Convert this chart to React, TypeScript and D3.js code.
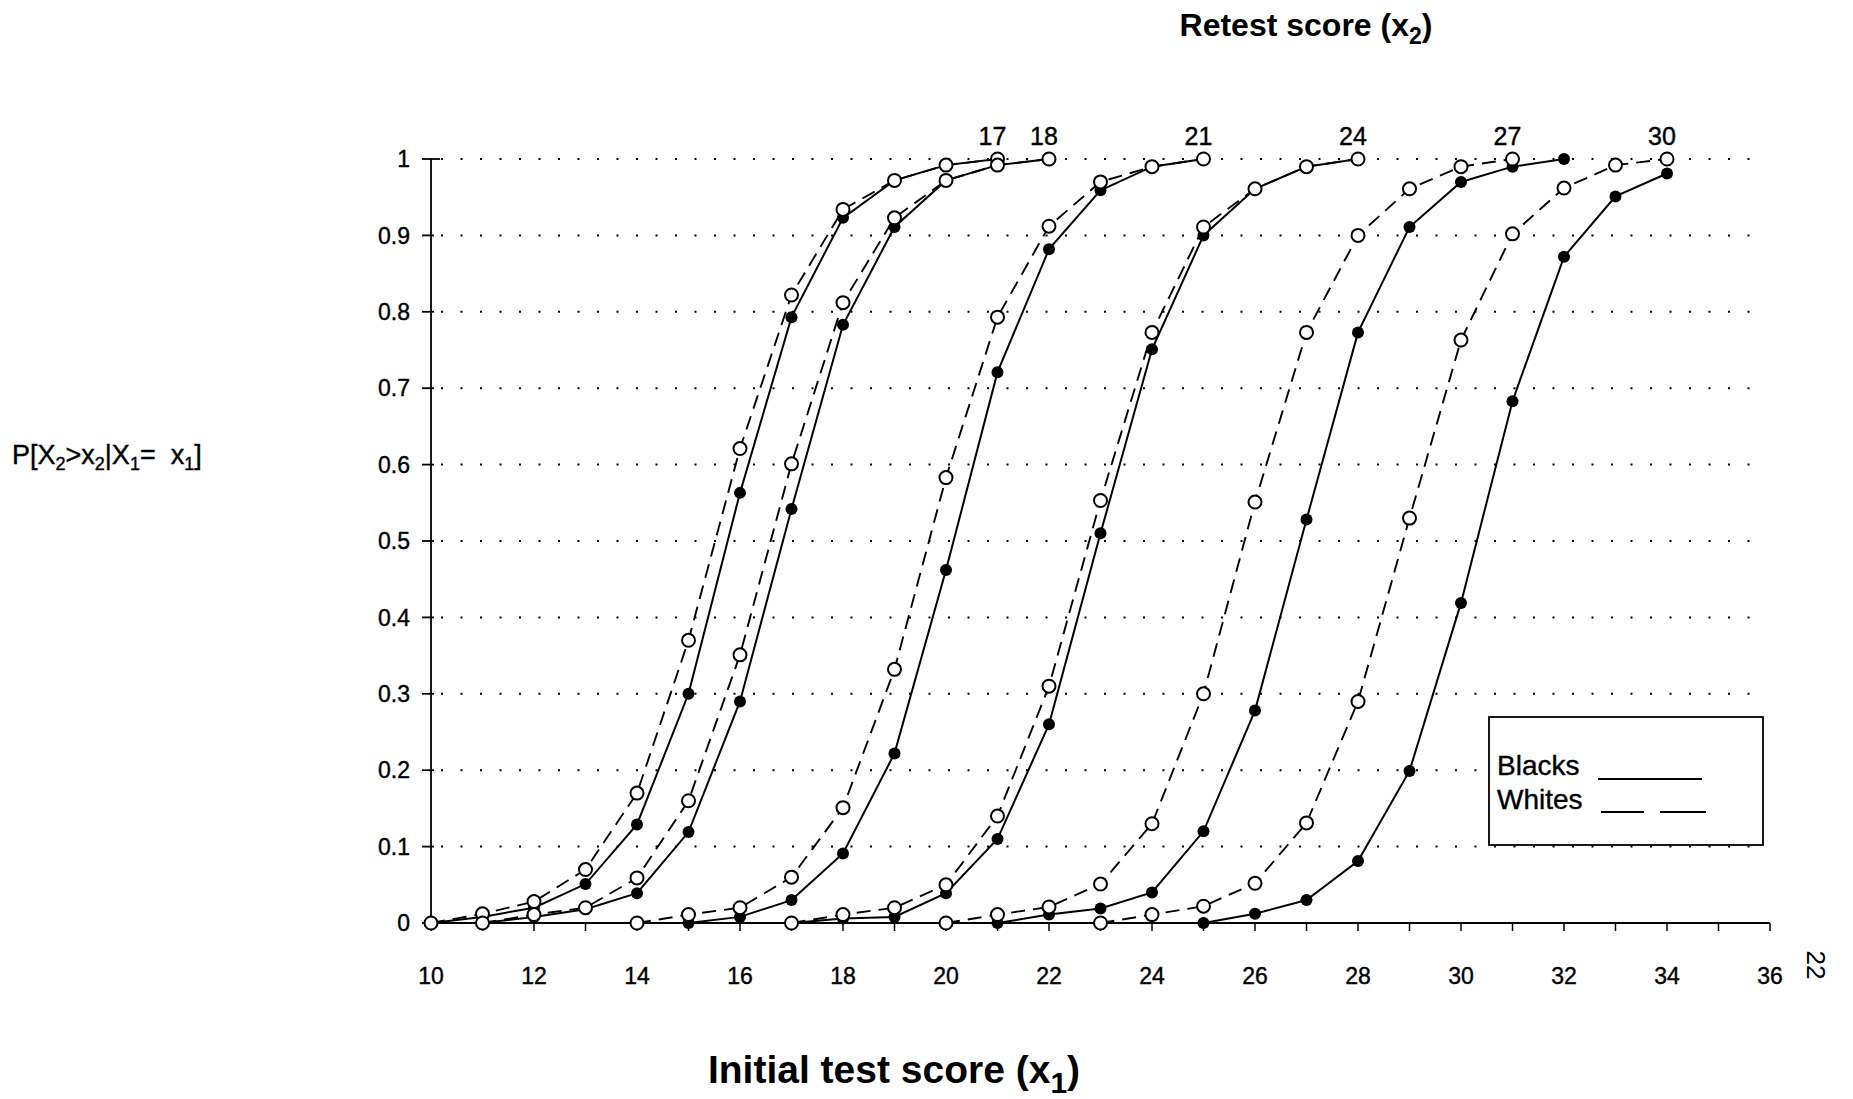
import React from "react";
import * as d3 from "d3";

// ---- data ----
const xTicks = [10, 12, 14, 16, 18, 20, 22, 24, 26, 28, 30, 32, 34, 36];
const yTicks = [0, 0.1, 0.2, 0.3, 0.4, 0.5, 0.6, 0.7, 0.8, 0.9, 1];
const yTickLabels = ["0", "0.1", "0.2", "0.3", "0.4", "0.5", "0.6", "0.7", "0.8", "0.9", "1"];
const curveLabels = ["17", "18", "21", "24", "27", "30"];
const whitesStart = [10, 11, 14, 17, 20, 23];
const blacksStart = [10, 11, 15, 17, 21, 25];

const whites17 = [0, 0.012, 0.028, 0.07, 0.17, 0.37, 0.621, 0.822, 0.934, 0.972, 0.992, 1.0];
const blacks17 = [0, 0.008, 0.02, 0.051, 0.129, 0.3, 0.563, 0.793, 0.923, 0.972, 0.992, 1.0];
const whites18 = [0, 0.011, 0.02, 0.059, 0.16, 0.351, 0.601, 0.812, 0.923, 0.972, 0.992, 1.0];
const blacks18 = [0, 0.008, 0.018, 0.039, 0.119, 0.29, 0.542, 0.783, 0.911, 0.972, 0.992, 1.0];
const whites21 = [0, 0.011, 0.02, 0.06, 0.151, 0.332, 0.583, 0.793, 0.912, 0.97, 0.99, 1.0];
const blacks21 = [0, 0.008, 0.03, 0.091, 0.222, 0.462, 0.721, 0.882, 0.959, 0.99, 1.0];
const whites24 = [0, 0.011, 0.02, 0.05, 0.14, 0.31, 0.553, 0.773, 0.911, 0.961, 0.99, 1.0];
const blacks24 = [0, 0.006, 0.008, 0.039, 0.11, 0.26, 0.51, 0.751, 0.9, 0.961, 0.99, 1.0];
const whites27 = [0, 0.011, 0.021, 0.051, 0.13, 0.3, 0.551, 0.773, 0.9, 0.961, 0.99, 1.0];
const blacks27 = [0, 0.011, 0.019, 0.04, 0.12, 0.278, 0.528, 0.773, 0.911, 0.97, 0.99, 1.0];
const whites30 = [0, 0.011, 0.022, 0.052, 0.131, 0.29, 0.53, 0.763, 0.902, 0.962, 0.992, 1.0];
const blacks30 = [0, 0.012, 0.03, 0.081, 0.199, 0.419, 0.683, 0.872, 0.951, 0.981];

const whitesValues = [whites17, whites18, whites21, whites24, whites27, whites30];
const blacksValues = [blacks17, blacks18, blacks21, blacks24, blacks27, blacks30];

type Pt = { x: number; y: number };
const toPts = (start: number, vals: number[]): Pt[] => vals.map((v, i) => ({ x: start + i, y: v }));

const FONT = "'Liberation Sans', Arial, Helvetica, sans-serif";

export default function App() {
  const W = 1853;
  const H = 1099;
  const x = d3.scaleLinear().domain([10, 36]).range([431, 1770]);
  const y = d3.scaleLinear().domain([0, 1]).range([923, 159]);
  const line = d3
    .line<Pt>()
    .x((d) => x(d.x))
    .y((d) => y(d.y));

  const whites = whitesValues.map((v, i) => toPts(whitesStart[i], v));
  const blacks = blacksValues.map((v, i) => toPts(blacksStart[i], v));
  const minorTicks = d3.range(10, 37, 1);
  const gridEnd = 1764;
  const heavy = { stroke: "#000", strokeWidth: 0.4 };

  return (
    <svg
      width={W}
      height={H}
      style={{ position: "absolute", left: 0, top: 0, background: "#fff" }}
      fontFamily={FONT}
    >
      <rect x={0} y={0} width={W} height={H} fill="#fff" />

      {/* dotted gridlines */}
      {yTicks.filter((t) => t > 0).map((t) => (
        <line
          key={"g" + t}
          x1={x(10) + 10}
          x2={gridEnd}
          y1={y(t)}
          y2={y(t)}
          stroke="#000"
          strokeWidth={2}
          strokeDasharray="2 17.5"
        />
      ))}

      {/* y axis */}
      <line x1={x(10)} x2={x(10)} y1={y(1)} y2={y(0)} stroke="#000" strokeWidth={1.8} />
      {yTicks.map((t, i) => (
        <g key={"yt" + t}>
          <line x1={x(10) - 9} x2={x(10) + (t === 1 ? 9 : 3)} y1={y(t)} y2={y(t)} stroke="#000" strokeWidth={1.8} />
          <text x={410} y={y(t)} dy="0.36em" textAnchor="end" fontSize={23} fill="#000" {...heavy}>
            {yTickLabels[i]}
          </text>
        </g>
      ))}

      {/* x axis */}
      <line x1={x(10)} x2={x(36)} y1={y(0)} y2={y(0)} stroke="#000" strokeWidth={2} />
      {minorTicks.map((t) => (
        <line key={"xt" + t} x1={x(t)} x2={x(t)} y1={y(0)} y2={y(0) + 8} stroke="#000" strokeWidth={1.5} />
      ))}
      {xTicks.map((t) => (
        <text key={"xl" + t} x={x(t)} y={y(0) + 61} textAnchor="middle" fontSize={23} fill="#000" {...heavy}>
          {t}
        </text>
      ))}

      {/* blacks lines (solid) */}
      {blacks.map((pts, i) => (
        <path key={"bl" + i} d={line(pts) || ""} fill="none" stroke="#000" strokeWidth={2} />
      ))}
      {/* whites lines (dashed) */}
      {whites.map((pts, i) => (
        <path
          key={"wl" + i}
          d={line(pts) || ""}
          fill="none"
          stroke="#000"
          strokeWidth={1.9}
          strokeDasharray="14 8"
        />
      ))}
      {/* filled markers */}
      {blacks.map((pts, i) =>
        pts.map((p, j) => <circle key={"bm" + i + "-" + j} cx={x(p.x)} cy={y(p.y)} r={6} fill="#000" />)
      )}
      {/* open markers */}
      {whites.map((pts, i) =>
        pts.map((p, j) => (
          <circle
            key={"wm" + i + "-" + j}
            cx={x(p.x)}
            cy={y(p.y)}
            r={6.5}
            fill="#fff"
            stroke="#000"
            strokeWidth={2}
          />
        ))
      )}

      {/* curve labels (retest score) */}
      {whites.map((pts, i) => {
        const last = pts[pts.length - 1];
        return (
          <text key={"cl" + i} x={x(last.x) - 5} y={y(1) - 14} textAnchor="middle" fontSize={25} fill="#000" {...heavy}>
            {curveLabels[i]}
          </text>
        );
      })}

      {/* top title */}
      <text x={1306} y={36} textAnchor="middle" fontSize={32} fontWeight="bold" fill="#000">
        Retest score (x
        <tspan fontSize={23} dy={8}>2</tspan>
        <tspan dy={-8}>)</tspan>
      </text>

      {/* y axis label */}
      <text x={12} y={464} fontSize={27} fill="#000" {...heavy}>
        P[X<tspan fontSize={18} dy={6}>2</tspan>
        <tspan dy={-6}>&gt;x</tspan>
        <tspan fontSize={18} dy={6}>2</tspan>
        <tspan dy={-6}>|X</tspan>
        <tspan fontSize={18} dy={6}>1</tspan>
        <tspan dy={-6} xmlSpace="preserve">=  x</tspan>
        <tspan fontSize={18} dy={6}>1</tspan>
        <tspan dy={-6}>]</tspan>
      </text>

      {/* x axis title */}
      <text x={894} y={1083} textAnchor="middle" fontSize={39} fontWeight="bold" fill="#000">
        Initial test score (x
        <tspan fontSize={30} dy={10}>1</tspan>
        <tspan dy={-10}>)</tspan>
      </text>

      {/* legend */}
      <rect x={1489} y={717} width={274} height={128} fill="#fff" stroke="#000" strokeWidth={1.8} />
      <text x={1497} y={775} fontSize={28} fill="#000" {...heavy}>Blacks</text>
      <text x={1497} y={809} fontSize={28} fill="#000" {...heavy}>Whites</text>
      <line x1={1598} x2={1702} y1={779} y2={779} stroke="#000" strokeWidth={2} />
      <line x1={1601} x2={1644} y1={812} y2={812} stroke="#000" strokeWidth={2} />
      <line x1={1660} x2={1706} y1={812} y2={812} stroke="#000" strokeWidth={2} />

      {/* page number */}
      <text x={1816} y={965} fontSize={26} fill="#000" textAnchor="middle" transform="rotate(90 1816 965)" dy="0.35em">
        22
      </text>
    </svg>
  );
}
